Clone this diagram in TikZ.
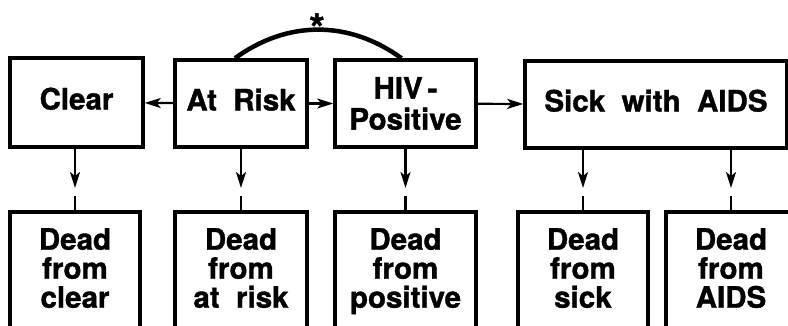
\documentclass[tikz,border=0pt]{standalone}
\usepackage{fontspec}
\setmainfont{TeX Gyre Heros}[BoldFeatures={FakeBold=1.2}]
\usetikzlibrary{arrows.meta}
\begin{document}
\begin{tikzpicture}[x=1pt, y=1pt,
		box/.style={draw, line width=3.5pt, inner sep=0pt, align=center, minimum height=87pt,
			font=\fontsize{29.5}{31}\selectfont\bfseries},
		onerow/.style={text height=21pt, text depth=7pt},
		deadbox/.style={draw, line width=3.5pt, anchor=north, minimum height=140pt},
		deadtext/.style={anchor=north, inner sep=0pt, align=center,
			font=\fontsize{29.5}{29}\selectfont\bfseries},
		flow/.style={-{Stealth[length=16pt, width=10pt, inset=4pt]}, line width=2.2pt}]
		% 1. 画布范围（下排方框在底边被截去）
		\useasboundingbox (0,0) rectangle (788,325);
		\clip (0,0) rectangle (788,325);
		
		% 2. 上排状态
		\node[box, onerow, minimum width=133pt, minimum height=89pt] (clear) at (76.5,222.5) {Clear};
		\node[box, onerow, minimum width=132pt] (risk) at (241,221.5) {At\ \ Risk};
		\node[box, minimum width=141pt] (hiv) at (405.5,221.5) {HIV\,-\\Positive};
		\node[box, onerow, minimum width=262pt] (sick) at (656,220.5) {Sick\ \ with\ \ AIDS};
		
		% 3. 下排死亡方框
		\node[deadbox, minimum width=130pt] (dclear) at (75,115) {};
		\node[deadbox, minimum width=132pt] (drisk) at (241,115) {};
		\node[deadbox, minimum width=141pt] (dpos) at (405.5,115) {};
		\node[deadbox, minimum width=130pt] (dsick) at (583,115) {};
		\node[deadbox, minimum width=130pt] (daids) at (731,115) {};
		
		% 4. 方框内文字
		\node[deadtext] (tclear) at ([yshift=-18pt]dclear.north) {Dead\\from\\clear};
		\node[deadtext] (trisk) at ([yshift=-18pt]drisk.north) {Dead\\from\\at\ \ risk};
		\node[deadtext] (tpos) at ([yshift=-18pt]dpos.north) {Dead\\from\\positive};
		\node[deadtext] (tsick) at ([yshift=-18pt]dsick.north) {Dead\\from\\sick};
		\node[deadtext] (taids) at ([yshift=-18pt]daids.north) {Dead\\from\\AIDS};
		
		% 5. 横向转移
		\draw[flow] (risk) -- (clear);
		\draw[flow] (risk) -- (hiv);
		\draw[flow] (hiv) -- (sick);
		
		% 6. 纵向转移（箭头与短线之间留空）
		\foreach \up/\down in {clear/dclear, risk/drisk, hiv/dpos, sick/dsick, sick/daids} {
			\draw[flow] (\up.south -| \down.north) -- ([yshift=22pt]\down.north);
			\draw[line width=2.2pt] (\down.north) -- ++(0,14);
		}
		
		% 7. 弧线与星号
		\draw[line width=4.5pt] ([xshift=-6pt]risk.north) to[out=36, in=144] ([xshift=-4pt]hiv.north);
		\node[font=\fontsize{40}{40}\selectfont\bfseries, inner sep=0pt] (star) at (317,297) {*};
	\end{tikzpicture}
\end{document}
